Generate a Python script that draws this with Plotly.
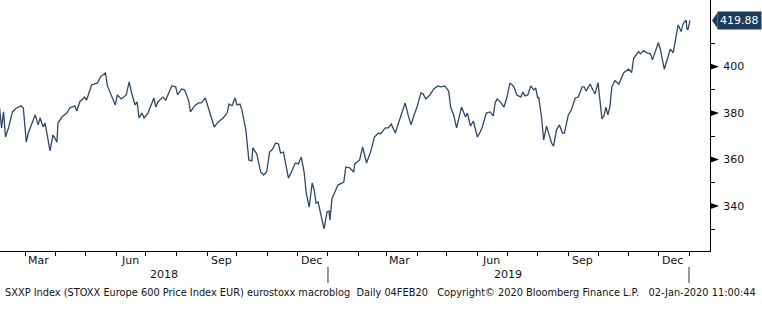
import plotly.graph_objects as go

# ---------------- data ----------------
dates = [
    "2018-02-03", "2018-02-05", "2018-02-07", "2018-02-09", "2018-02-12", "2018-02-16", "2018-02-20",
    "2018-02-25", "2018-02-27", "2018-03-02", "2018-03-04", "2018-03-11", "2018-03-14", "2018-03-16",
    "2018-03-19", "2018-03-21", "2018-03-26", "2018-03-29", "2018-04-02", "2018-04-03", "2018-04-07",
    "2018-04-12", "2018-04-15", "2018-04-20", "2018-04-22", "2018-04-25", "2018-04-30", "2018-05-02",
    "2018-05-07", "2018-05-13", "2018-05-16", "2018-05-21", "2018-05-23", "2018-05-27", "2018-05-31",
    "2018-06-02", "2018-06-06", "2018-06-11", "2018-06-14", "2018-06-17", "2018-06-20", "2018-06-22",
    "2018-06-24", "2018-06-27", "2018-06-29", "2018-07-03", "2018-07-09", "2018-07-11", "2018-07-13",
    "2018-07-18", "2018-07-21", "2018-07-27", "2018-07-31", "2018-08-02", "2018-08-06", "2018-08-09",
    "2018-08-13", "2018-08-15", "2018-08-19", "2018-08-23", "2018-08-26", "2018-08-30", "2018-09-02",
    "2018-09-08", "2018-09-12", "2018-09-17", "2018-09-21", "2018-09-23", "2018-09-26", "2018-09-29",
    "2018-10-01", "2018-10-04", "2018-10-06", "2018-10-10", "2018-10-13", "2018-10-16", "2018-10-17",
    "2018-10-21", "2018-10-25", "2018-10-28", "2018-10-31", "2018-11-03", "2018-11-06", "2018-11-09",
    "2018-11-12", "2018-11-14", "2018-11-17", "2018-11-22", "2018-11-25", "2018-11-29", "2018-12-02",
    "2018-12-05", "2018-12-08", "2018-12-10", "2018-12-13", "2018-12-16", "2018-12-18", "2018-12-20",
    "2018-12-22", "2018-12-25", "2018-12-28", "2018-12-31", "2019-01-02", "2019-01-03", "2019-01-05",
    "2019-01-08", "2019-01-11", "2019-01-17", "2019-01-19", "2019-01-23", "2019-01-27", "2019-01-28",
    "2019-02-02", "2019-02-05", "2019-02-09", "2019-02-13", "2019-02-17", "2019-02-21", "2019-02-23",
    "2019-02-28", "2019-03-03", "2019-03-06", "2019-03-10", "2019-03-12", "2019-03-18", "2019-03-20",
    "2019-03-23", "2019-03-26", "2019-03-28", "2019-04-01", "2019-04-05", "2019-04-07", "2019-04-10",
    "2019-04-14", "2019-04-18", "2019-04-22", "2019-04-25", "2019-04-29", "2019-05-03", "2019-05-05",
    "2019-05-08", "2019-05-11", "2019-05-16", "2019-05-20", "2019-05-22", "2019-05-25", "2019-05-28",
    "2019-06-01", "2019-06-04", "2019-06-06", "2019-06-10", "2019-06-14", "2019-06-17", "2019-06-19",
    "2019-06-21", "2019-06-25", "2019-06-28", "2019-07-01", "2019-07-04", "2019-07-08", "2019-07-11",
    "2019-07-15", "2019-07-17", "2019-07-19", "2019-07-22", "2019-07-25", "2019-07-28", "2019-07-30",
    "2019-08-01", "2019-08-02", "2019-08-05", "2019-08-07", "2019-08-10", "2019-08-13", "2019-08-15",
    "2019-08-17", "2019-08-20", "2019-08-23", "2019-08-26", "2019-08-28", "2019-09-01", "2019-09-04",
    "2019-09-08", "2019-09-11", "2019-09-15", "2019-09-17", "2019-09-19", "2019-09-22", "2019-09-23",
    "2019-09-26", "2019-09-28", "2019-10-01", "2019-10-05", "2019-10-07", "2019-10-09", "2019-10-11",
    "2019-10-13", "2019-10-15", "2019-10-18", "2019-10-22", "2019-10-25", "2019-10-27", "2019-11-01",
    "2019-11-04", "2019-11-06", "2019-11-11", "2019-11-13", "2019-11-16", "2019-11-19", "2019-11-23",
    "2019-11-25", "2019-11-29", "2019-12-01", "2019-12-03", "2019-12-07", "2019-12-10", "2019-12-13",
    "2019-12-16", "2019-12-19", "2019-12-21", "2019-12-24", "2019-12-26", "2019-12-29", "2019-12-30",
    "2019-12-31", "2020-01-02",
]
values = [
    382.2, 373.6, 380.5, 369.7, 373.6, 380.5, 382.2,
    383.1, 382.2, 367.5, 371.4, 379.2, 374.9, 377.9,
    374.0, 375.7, 363.7, 370.6, 367.5, 375.7, 378.3,
    380.0, 382.2, 383.1, 380.9, 384.8, 386.9, 385.6,
    392.1, 393.0, 395.6, 397.3, 391.7, 387.8, 383.5,
    387.8, 386.1, 387.8, 393.4, 387.8, 383.5, 384.8,
    377.9, 380.0, 377.9, 380.0, 386.5, 382.6, 384.8,
    386.9, 385.6, 391.7, 391.3, 387.8, 390.4, 390.0,
    385.6, 380.5, 383.1, 384.4, 384.4, 386.5, 382.6,
    374.0, 376.2, 377.9, 380.0, 383.9, 383.1, 386.5,
    383.5, 383.9, 381.3, 372.7, 359.8, 359.4, 365.0,
    362.4, 354.6, 353.3, 354.6, 363.2, 364.5, 367.1,
    366.7, 362.8, 363.2, 352.0, 354.6, 358.5, 358.1,
    361.1, 354.2, 345.6, 339.5, 349.9, 346.9, 341.2,
    341.7, 336.1, 330.1, 337.4, 337.8, 333.9, 343.0,
    346.0, 349.0, 350.3, 356.8, 356.4, 354.6, 358.1,
    359.8, 365.4, 358.5, 363.2, 369.7, 371.4, 371.0,
    373.6, 373.6, 375.3, 371.4, 374.0, 382.2, 384.4,
    379.2, 374.9, 377.9, 382.6, 388.7, 388.3, 386.1,
    387.8, 390.4, 391.7, 391.3, 391.7, 389.5, 382.6,
    379.2, 373.6, 382.6, 378.3, 380.0, 374.4, 376.6,
    369.7, 371.9, 374.0, 380.0, 380.5, 378.8, 384.4,
    386.1, 384.4, 382.6, 386.9, 393.0, 391.3, 387.8,
    386.9, 389.1, 387.4, 387.8, 391.7, 390.0, 390.8,
    386.5, 386.9, 377.9, 368.4, 374.4, 370.6, 367.1,
    365.8, 372.7, 374.9, 371.4, 371.4, 379.2, 381.3,
    386.5, 386.9, 391.3, 391.3, 389.5, 391.7, 392.5,
    389.7, 388.3, 393.1, 377.5, 378.8, 382.6, 379.2,
    382.8, 391.3, 394.0, 392.5, 395.1, 397.4, 398.9,
    397.4, 403.6, 406.5, 405.5, 406.9, 406.0, 405.5,
    402.9, 408.4, 410.3, 407.5, 398.9, 403.2, 407.5,
    406.0, 414.1, 418.0, 415.1, 418.4, 420.1, 416.1,
    416.1, 419.88,
]
last_value = 419.88
last_label = "419.88"

y_major = [340, 360, 380, 400]
y_minor = [330, 350, 370, 390, 410]

month_ticks = [
    "2018-02-01", "2018-03-01", "2018-04-01", "2018-05-01", "2018-06-01", "2018-07-01",
    "2018-08-01", "2018-09-01", "2018-10-01", "2018-11-01", "2018-12-01", "2019-01-01",
    "2019-02-01", "2019-03-01", "2019-04-01", "2019-05-01", "2019-06-01", "2019-07-01",
    "2019-08-01", "2019-09-01", "2019-10-01", "2019-11-01", "2019-12-01", "2020-01-01",
]
month_labels = ["Mar", "Jun", "Sep", "Dec", "Mar", "Jun", "Sep", "Dec"]
month_label_dates = ["2018-03-14", "2018-06-15", "2018-09-15", "2018-12-15",
                     "2019-03-14", "2019-06-15", "2019-09-15", "2019-12-15"]
year_labels = ["2018", "2019"]
year_label_dates = ["2018-07-19", "2019-07-02"]
year_starts = ["2019-01-01", "2020-01-01"]

footer_parts = [
    "SXXP Index (STOXX Europe 600 Price Index EUR) eurostoxx macroblog",
    "Daily 04FEB20",
    "Copyright\u00a9 2020 Bloomberg Finance L.P.",
    "02-Jan-2020 11:00:44",
]

# ---------------- figure ----------------
W, H = 762, 324
L, R, T, B = 0, 52, 0, 73
plot_w = W - L - R
plot_h = H - T - B

FONT = "DejaVu Sans, Verdana, sans-serif"
LINE = "#2f4868"
NAVY = "#1d3b5c"
TXT = "#111111"

fig = go.Figure()
fig.add_trace(go.Scatter(
    x=dates, y=values, mode="lines",
    line=dict(color=LINE, width=1.3),
    hoverinfo="skip", showlegend=False,
))

def py(pixels_below_axis):
    return -pixels_below_axis / plot_h

annotations = []
for lab, d in zip(month_labels, month_label_dates):
    annotations.append(dict(x=d, xref="x", y=py(9), yref="paper", text=lab,
                            showarrow=False, xanchor="center", yanchor="middle",
                            font=dict(family=FONT, size=11, color=TXT)))
for lab, d in zip(year_labels, year_label_dates):
    annotations.append(dict(x=d, xref="x", y=py(23), yref="paper", text=lab,
                            showarrow=False, xanchor="center", yanchor="middle",
                            font=dict(family=FONT, size=11, color=TXT)))
footer_text = ("\u00a0\u00a0").join(footer_parts[:2]) + "\u00a0\u00a0\u00a0" + \
    ("\u00a0\u00a0\u00a0").join(footer_parts[2:])
annotations.append(dict(x=3 / plot_w, xref="paper", y=py(41), yref="paper", text=footer_text,
                        showarrow=False, xanchor="left", yanchor="middle",
                        font=dict(family=FONT, size=9.8, color=TXT)))
# last value label
annotations.append(dict(x=1, xref="paper", y=last_value, yref="y", text=last_label,
                        showarrow=False, xanchor="left", yanchor="middle", xshift=7,
                        bgcolor=NAVY, borderpad=2,
                        font=dict(family=FONT, size=11, color="white")))

shapes = []
for d in year_starts:
    shapes.append(dict(type="line", xref="x", yref="paper", x0=d, x1=d,
                       y0=py(16), y1=py(32), line=dict(color="#333333", width=1)))
tri_w = 9 / plot_w
tri_h = 3.2 * (428.7 - 320.6) / plot_h
for v in y_major:
    shapes.append(dict(type="path", xref="paper", yref="y",
                       path=f"M 1,{v - tri_h} L {1 + tri_w},{v} L 1,{v + tri_h} Z",
                       fillcolor="black", line=dict(width=0)))
# pointer of the last value label
box_h = 8 * (428.7 - 320.6) / plot_h
shapes.append(dict(type="path", xref="paper", yref="y",
                   path=(f"M {1 + 7.5 / plot_w},{last_value - box_h} "
                         f"L {1 + 2 / plot_w},{last_value} "
                         f"L {1 + 7.5 / plot_w},{last_value + box_h} Z"),
                   fillcolor=NAVY, line=dict(width=0)))

fig.update_layout(
    width=W, height=H,
    margin=dict(l=L, r=R, t=T, b=B, pad=0),
    paper_bgcolor="white", plot_bgcolor="white",
    showlegend=False,
    annotations=annotations,
    shapes=shapes,
    xaxis=dict(
        type="date",
        range=["2018-02-03 10:00", "2020-01-22 05:00"],
        showgrid=False, zeroline=False,
        showline=True, linecolor="black", linewidth=1,
        tickmode="array", tickvals=month_ticks,
        ticks="outside", ticklen=4, tickcolor="black", tickwidth=1,
        showticklabels=False,
    ),
    yaxis=dict(
        side="right",
        range=[320.6, 428.7],
        showgrid=False, zeroline=False,
        showline=True, linecolor="black", linewidth=1,
        tickmode="array", tickvals=y_major, ticktext=[str(v) for v in y_major],
        ticks="outside", ticklen=10, tickcolor="rgba(0,0,0,0)",
        tickfont=dict(family=FONT, size=11, color=TXT),
        minor=dict(tickmode="array", tickvals=y_minor, ticks="outside",
                   ticklen=4, tickcolor="black", tickwidth=1),
    ),
)

fig.write_html("out.html")
